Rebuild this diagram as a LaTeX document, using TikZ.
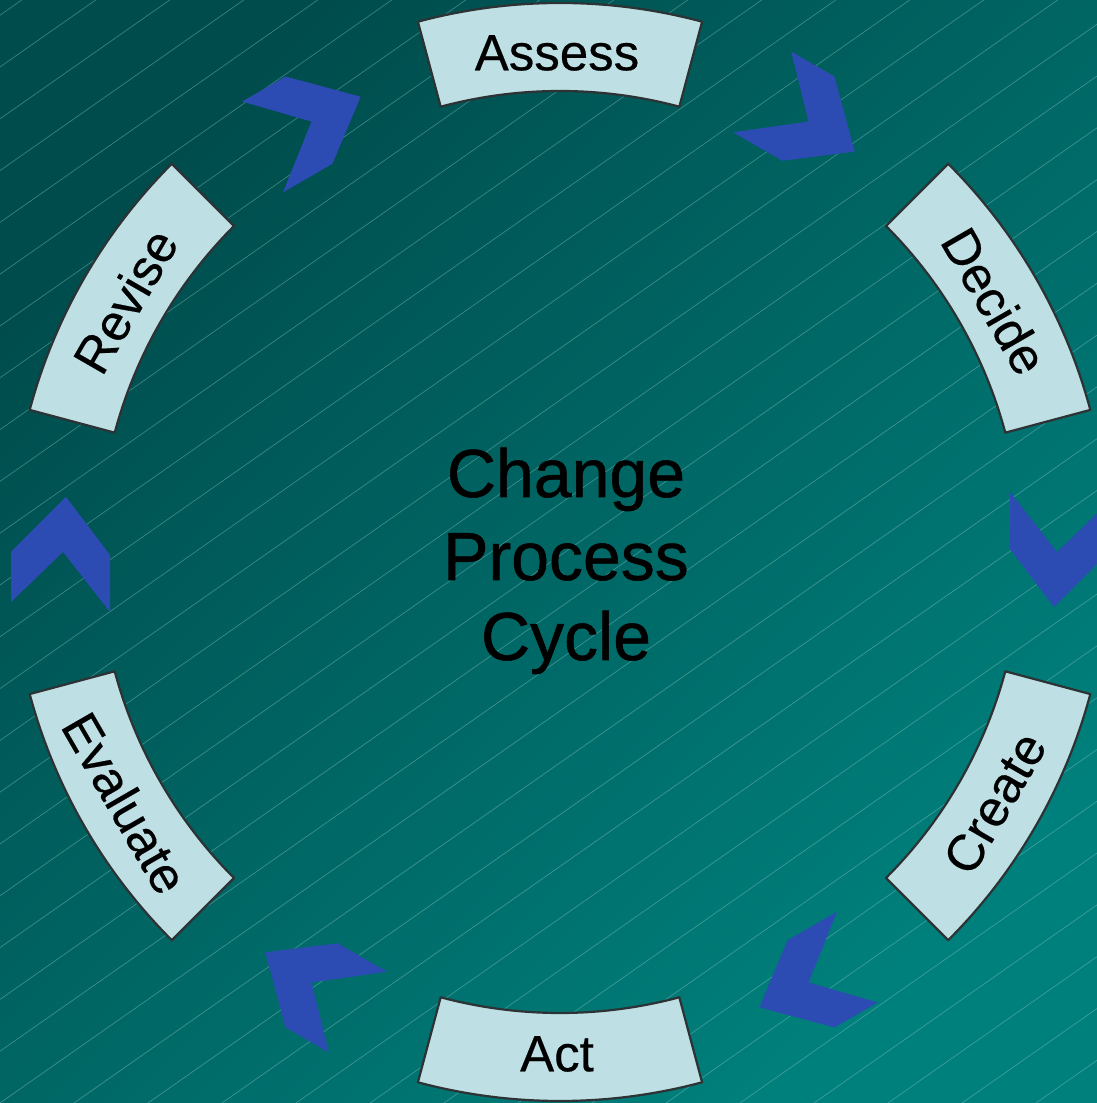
\documentclass[tikz,border=0pt]{standalone}
\usepackage{fontspec}
\setmainfont{Liberation Sans}
\newfontfamily\heavyfont[FakeBold=0.8]{Liberation Sans}
\newfontfamily\labelfont[FakeBold=0.4]{Liberation Sans}
\usetikzlibrary{calc}
\definecolor{bgA}{RGB}{0,76,76}
\definecolor{bgB}{RGB}{0,128,124}
\definecolor{boxfill}{RGB}{190,224,228}
\definecolor{boxline}{RGB}{45,50,52}
\definecolor{chev}{RGB}{44,76,180}
\definecolor{stripe}{RGB}{150,205,205}
\begin{document}
\begin{tikzpicture}[x=1pt,y=1pt,
  stripeline/.style={draw=stripe, line width=0.7pt, opacity=0.4},
  sectorbox/.style={fill=boxfill, draw=boxline, line width=2.2pt, line join=round},
  chevshape/.style={fill=chev},
  lbl/.style={font=\labelfont\fontsize{51}{60}\selectfont, text=black, inner sep=0pt},
  ctr/.style={font=\heavyfont\fontsize{68}{80}\selectfont, text=black, inner sep=0pt, anchor=base}]
\useasboundingbox (0,0) rectangle (1097,1103);
\shade[top color=bgA, bottom color=bgB, shading angle=45] (0,0) rectangle (1097,1103);
\begin{scope}
  \clip (0,0) rectangle (1097,1103);
  \foreach \k in {-23,...,16} {
    \draw[stripeline] (\k*74, 0) -- ++(1600, 1120);
  }
\end{scope}
\coordinate (C) at (560,551);
% sector boxes
\foreach \a in {90,30,-30,-90,210,150} {
  \pgfmathsetmacro{\aone}{\a-15}
  \pgfmathsetmacro{\atwo}{\a+15}
  \draw[sectorbox] ($(C)+(\aone:549)$) arc[start angle=\aone, end angle=\atwo, radius=549]
     -- ($(C)+(\atwo:461)$) arc[start angle=\atwo, end angle=\aone, radius=461] -- cycle;
}
% chevrons
\foreach \a in {60,0,-60,-120,180,120} {
  \begin{scope}[shift={($(C)+(\a:497)$)}, rotate=\a-90]
    \fill[chevshape] (55,-3) -- (-3,-47) -- (-60,-47) -- (0,0) -- (-50,52) -- (0,52) -- cycle;
  \end{scope}
}
% labels
\node[lbl] (assess) at ($(C)+(90:499)+(-3,0)$) {Assess};
\node[lbl, rotate=-60] (decide) at ($(C)+(30:502)$) {Decide};
\node[lbl, rotate=60] (create) at ($(C)+(-30:502)$) {Create};
\node[lbl] (act) at ($(C)+(-90:502)+(-3,0)$) {Act};
\node[lbl, rotate=-60] (evaluate) at ($(C)+(210:502)$) {Evaluate};
\node[lbl, rotate=60] (revise) at ($(C)+(150:502)$) {Revise};
% centre text
\node[ctr] (change) at (566,606) {Change};
\node[ctr] (process) at (566,523) {Process};
\node[ctr] (cycle) at (566,443) {Cycle};
\end{tikzpicture}
\end{document}
